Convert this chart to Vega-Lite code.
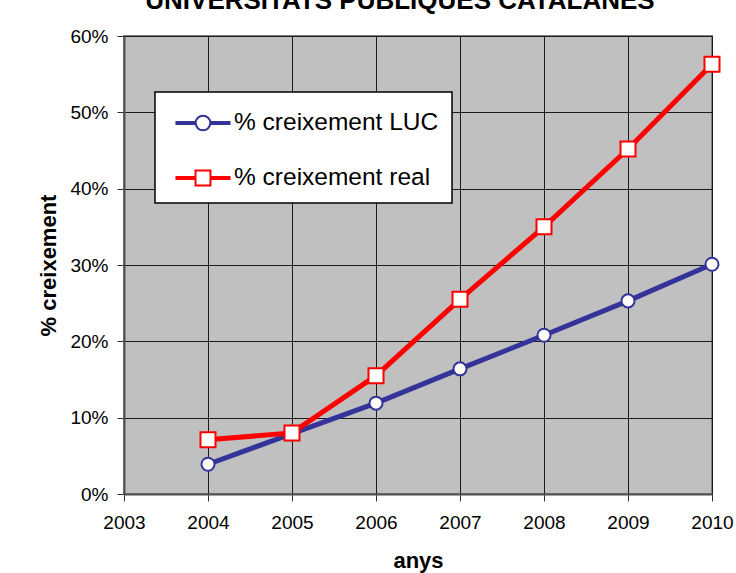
{
  "$schema": "https://vega.github.io/schema/vega-lite/v6.json",
  "width": 588,
  "height": 458,
  "autosize": {"type": "none"},
  "padding": {"left": 124, "top": 36, "right": 24, "bottom": 79},
  "background": "white",
  "title": {
    "text": "UNIVERSITATS PÚBLIQUES CATALANES",
    "font": "Liberation Sans",
    "fontSize": 26,
    "fontWeight": "bold",
    "color": "black",
    "anchor": "middle",
    "dx": -18,
    "baseline": "alphabetic",
    "offset": -8
  },
  "config": {
    "view": {"fill": "#C0C0C0", "stroke": "#808080", "strokeWidth": 2},
    "axis": {
      "labelFont": "Liberation Sans",
      "labelFontSize": 19,
      "labelColor": "black",
      "titleFont": "Liberation Sans",
      "titleFontSize": 22,
      "titleFontWeight": "bold",
      "titleColor": "black",
      "domainColor": "#505050",
      "domainWidth": 2,
      "tickColor": "#303030",
      "tickWidth": 1,
      "tickSize": 7,
      "gridColor": "#1a1a1a",
      "gridWidth": 1,
      "gridOpacity": 1
    }
  },
  "data": {
    "values": [
      {"year": 2004, "series": "% creixement LUC", "value": 0.039},
      {"year": 2005, "series": "% creixement LUC", "value": 0.079},
      {"year": 2006, "series": "% creixement LUC", "value": 0.119},
      {"year": 2007, "series": "% creixement LUC", "value": 0.164},
      {"year": 2008, "series": "% creixement LUC", "value": 0.208},
      {"year": 2009, "series": "% creixement LUC", "value": 0.253},
      {"year": 2010, "series": "% creixement LUC", "value": 0.301},
      {"year": 2004, "series": "% creixement real", "value": 0.071},
      {"year": 2005, "series": "% creixement real", "value": 0.080},
      {"year": 2006, "series": "% creixement real", "value": 0.155},
      {"year": 2007, "series": "% creixement real", "value": 0.255},
      {"year": 2008, "series": "% creixement real", "value": 0.350},
      {"year": 2009, "series": "% creixement real", "value": 0.452},
      {"year": 2010, "series": "% creixement real", "value": 0.563}
    ]
  },
  "encoding": {
    "x": {
      "field": "year",
      "type": "quantitative",
      "scale": {"domain": [2003, 2010], "nice": false, "zero": false},
      "axis": {
        "title": "anys",
        "values": [2003, 2004, 2005, 2006, 2007, 2008, 2009, 2010],
        "format": "d",
        "labelPadding": 12,
        "titlePadding": 18,
        "grid": true,
        "labelFlush": false
      }
    },
    "y": {
      "field": "value",
      "type": "quantitative",
      "scale": {"domain": [0, 0.6], "nice": false},
      "axis": {
        "title": "% creixement",
        "values": [0, 0.1, 0.2, 0.3, 0.4, 0.5, 0.6],
        "format": ".0%",
        "labelPadding": 9,
        "titlePadding": 9,
        "grid": true
      }
    }
  },
  "layer": [
    {
      "mark": {"type": "line", "strokeWidth": 5},
      "encoding": {
        "stroke": {
          "field": "series",
          "type": "nominal",
          "scale": {"domain": ["% creixement LUC", "% creixement real"], "range": ["#333399", "#FF0000"]},
          "legend": {
            "title": null,
            "orient": "none",
            "legendX": 31,
            "legendY": 56,
            "fillColor": "white",
            "strokeColor": "black",
            "padding": 13,
            "symbolSize": 1156,
            "symbolStrokeWidth": 2,
            "symbolFillColor": "white",
            "symbolOffset": 17,
            "labelOffset": 13,
            "rowPadding": 25,
            "labelFont": "Liberation Sans",
            "labelFontSize": 24.5,
            "labelColor": "black",
            "labelLimit": 400,
            "encode": {
              "legend": {"update": {"strokeWidth": {"value": 1.5}}},
              "symbols": {
                "update": {
                  "shape": {"signal": "datum.value === '% creixement LUC' ? 'M-1.56,-0.06L-0.43,-0.06L-0.43,0.06L-1.56,0.06Z M0.43,-0.06L1.56,-0.06L1.56,0.06L0.43,0.06Z M-0.43,0A0.43,0.43,0,1,1,0.43,0A0.43,0.43,0,1,1,-0.43,0Z' : 'M-1.56,-0.06L-0.44,-0.06L-0.44,0.06L-1.56,0.06Z M0.44,-0.06L1.56,-0.06L1.56,0.06L0.44,0.06Z M-0.44,-0.44L0.44,-0.44L0.44,0.44L-0.44,0.44Z'"},
                  "size": {"value": 1156},
                  "fill": {"value": "white"},
                  "fillOpacity": {"value": 1},
                  "opacity": {"value": 1},
                  "strokeWidth": {"value": 2}
                }
              }
            }
          }
        }
      }
    },
    {
      "transform": [{"filter": "datum.series === '% creixement LUC'"}],
      "mark": {"type": "point", "shape": "circle", "size": 170, "filled": true, "fill": "white", "stroke": "#333399", "fillOpacity": 1, "opacity": 1, "strokeWidth": 2}
    },
    {
      "transform": [{"filter": "datum.series === '% creixement real'"}],
      "mark": {"type": "point", "shape": "square", "size": 225, "filled": true, "fill": "white", "stroke": "#FF0000", "fillOpacity": 1, "opacity": 1, "strokeWidth": 2}
    }
  ]
}
